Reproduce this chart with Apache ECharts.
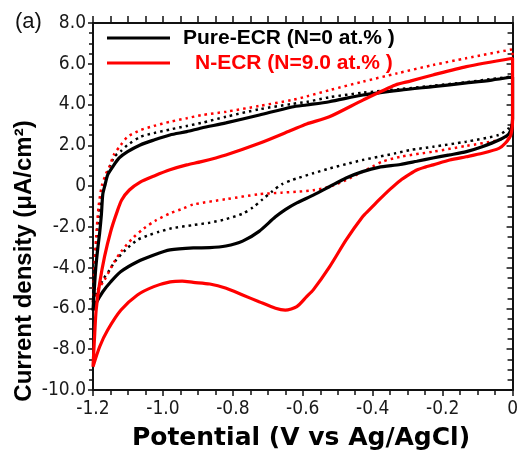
<!DOCTYPE html>
<html>
<head>
<meta charset="utf-8">
<script src="https://cdn.jsdelivr.net/npm/echarts@6/dist/echarts.min.js"></script>
<style>
html,body{margin:0;padding:0;background:#fff;}
#chart{width:521px;height:453px;}
</style>
</head>
<body>
<div id="chart"></div>
<script>
// ---- Data (Potential V vs Ag/AgCl, current density µA/cm²) ----
const xTicks = [-1.2, -1.0, -0.8, -0.6, -0.4, -0.2, 0];
const yTicks = [-10, -8, -6, -4, -2, 0, 2, 4, 6, 8];

const legendNames = ['Pure-ECR (N=0 at.% )', 'N-ECR (N=9.0 at.% )'];

// Pure-ECR solid: forward (anodic) sweep
const pureFwdV = [-1.200,-1.196,-1.192,-1.186,-1.181,-1.176,-1.172,-1.165,-1.158,-1.144,-1.125,-1.101,-1.065,-1.026,-0.980,-0.932,-0.890,-0.820,-0.724,-0.631,-0.589,-0.524,-0.428,-0.321,-0.228,-0.132,-0.060,0.000];
const pureFwdJ = [-6.10,-5.00,-4.00,-3.00,-2.30,-1.40,-0.40,0.10,0.55,0.94,1.38,1.69,2.02,2.26,2.51,2.67,2.85,3.10,3.49,3.88,3.98,4.14,4.47,4.71,4.88,5.06,5.20,5.35];
// Pure-ECR solid: reverse (cathodic) sweep
const pureRevV = [0.000,-0.003,-0.011,-0.039,-0.087,-0.132,-0.180,-0.228,-0.274,-0.321,-0.383,-0.429,-0.476,-0.524,-0.570,-0.617,-0.650,-0.679,-0.725,-0.772,-0.820,-0.866,-0.913,-0.980,-1.026,-1.073,-1.121,-1.149,-1.172,-1.191,-1.200];
const pureRevJ = [3.30,2.90,2.55,2.26,1.93,1.69,1.53,1.38,1.22,1.06,0.92,0.71,0.40,-0.03,-0.44,-0.82,-1.15,-1.52,-2.22,-2.70,-2.94,-3.02,-3.03,-3.13,-3.38,-3.71,-4.20,-4.69,-5.18,-5.73,-6.10];

// N-ECR solid
const necrFwdV = [-1.200,-1.195,-1.191,-1.181,-1.167,-1.149,-1.132,-1.118,-1.096,-1.065,-1.025,-0.980,-0.932,-0.890,-0.820,-0.724,-0.631,-0.589,-0.524,-0.428,-0.335,-0.293,-0.228,-0.132,0.000];
const necrFwdJ = [-8.86,-7.22,-6.08,-4.77,-3.46,-2.20,-1.30,-0.68,-0.19,0.20,0.50,0.80,1.04,1.20,1.53,2.10,2.75,3.05,3.40,4.22,4.96,5.15,5.45,5.86,6.27];
const necrRevV = [0.000,-0.005,-0.021,-0.039,-0.086,-0.133,-0.180,-0.227,-0.250,-0.274,-0.293,-0.321,-0.350,-0.382,-0.410,-0.429,-0.476,-0.523,-0.570,-0.589,-0.617,-0.650,-0.678,-0.725,-0.772,-0.819,-0.866,-0.913,-0.945,-0.979,-1.026,-1.073,-1.120,-1.158,-1.181,-1.200];
const necrRevJ = [3.30,2.51,2.10,1.85,1.61,1.44,1.28,1.04,0.93,0.79,0.60,0.28,-0.15,-0.68,-1.17,-1.50,-2.64,-3.95,-5.09,-5.42,-5.91,-6.08,-5.99,-5.67,-5.34,-5.01,-4.80,-4.72,-4.66,-4.70,-4.93,-5.34,-6.08,-7.06,-7.88,-8.86];

// Pure-ECR dotted
const pureDotFwdV = [-1.200,-1.196,-1.191,-1.184,-1.176,-1.169,-1.155,-1.139,-1.120,-1.101,-1.064,-1.026,-0.979,-0.932,-0.890,-0.820,-0.724,-0.631,-0.589,-0.524,-0.428,-0.321,-0.228,-0.132,0.000];
const pureDotFwdJ = [-5.70,-4.20,-2.80,-1.50,-0.60,-0.10,0.80,1.44,1.72,2.02,2.42,2.60,2.78,2.95,3.10,3.40,3.77,4.03,4.13,4.36,4.58,4.76,4.92,5.10,5.38];
const pureDotRevV = [0.000,-0.011,-0.039,-0.133,-0.227,-0.293,-0.335,-0.382,-0.429,-0.476,-0.523,-0.570,-0.617,-0.631,-0.659,-0.687,-0.715,-0.743,-0.772,-0.820,-0.865,-0.913,-0.975,-1.011,-1.039,-1.073,-1.107,-1.138,-1.152,-1.169,-1.186,-1.200];
const pureDotRevJ = [3.10,2.84,2.51,2.18,1.93,1.77,1.61,1.44,1.28,1.08,0.87,0.63,0.38,0.30,0.10,-0.25,-0.65,-1.05,-1.35,-1.62,-1.79,-1.91,-2.07,-2.24,-2.40,-2.64,-3.13,-3.71,-4.11,-4.52,-5.09,-5.70];

// N-ECR dotted
const necrDotFwdV = [-1.200,-1.196,-1.191,-1.184,-1.175,-1.163,-1.153,-1.140,-1.120,-1.101,-1.064,-1.026,-0.979,-0.932,-0.890,-0.819,-0.725,-0.631,-0.589,-0.523,-0.429,-0.330,-0.227,-0.133,0.000];
const necrDotFwdJ = [-5.70,-4.00,-2.50,-1.00,0.00,0.60,0.95,1.55,2.02,2.42,2.75,2.95,3.16,3.33,3.48,3.65,3.93,4.22,4.40,4.71,5.12,5.53,5.94,6.27,6.71];
const necrDotRevV = [0.000,-0.011,-0.039,-0.133,-0.227,-0.321,-0.373,-0.401,-0.429,-0.476,-0.523,-0.570,-0.610,-0.660,-0.725,-0.819,-0.913,-0.942,-0.979,-1.022,-1.054,-1.087,-1.120,-1.139,-1.167,-1.186,-1.200];
const necrDotRevJ = [3.10,2.51,2.26,1.97,1.69,1.44,1.20,0.95,0.71,0.30,-0.03,-0.20,-0.27,-0.32,-0.40,-0.64,-0.90,-1.10,-1.33,-1.70,-2.07,-2.56,-3.22,-3.71,-4.60,-5.09,-5.70];

function loop(fv, fj, rv, rj) {
  const d = [];
  fv.forEach((v, i) => d.push([v, fj[i]]));
  rv.forEach((v, i) => d.push([v, rj[i]]));
  return d;
}

const narrow = "'Liberation Sans Narrow', 'DejaVu Sans Condensed', 'Arial Narrow', sans-serif";
const fmtY = v => (v === 0 ? '0' : v.toFixed(1));
const fmtX = v => (Math.abs(v) < 1e-9 ? '0' : v.toFixed(1));

const chart = echarts.init(document.getElementById('chart'), null, {renderer: 'canvas'});

const axisLineStyle = {color: '#111', width: 2};

chart.setOption({
  animation: false,
  backgroundColor: '#fff',
  grid: {left: 93, right: 2, top: 23, bottom: 63, containLabel: false},
  xAxis: [
    {
      type: 'value', min: xTicks[0], max: xTicks[xTicks.length - 1], interval: 0.2,
      position: 'bottom',
      axisLine: {show: true, onZero: false, lineStyle: axisLineStyle},
      axisTick: {show: true, inside: false, length: 6, lineStyle: {color: '#111', width: 1.5}},
      minorTick: {show: true, splitNumber: 4, length: 5, lineStyle: {color: '#111', width: 1.5}},
      axisLabel: {formatter: fmtX, fontFamily: narrow, fontSize: 19, color: '#1a1a1a', margin: 10},
      splitLine: {show: false}, minorSplitLine: {show: false}
    },
    {
      type: 'value', min: xTicks[0], max: xTicks[xTicks.length - 1], interval: 0.2,
      position: 'top',
      axisLine: {show: true, onZero: false, lineStyle: axisLineStyle},
      axisTick: {show: true, inside: false, length: 7, lineStyle: {color: '#111', width: 1.5}},
      minorTick: {show: true, splitNumber: 4, length: 7, lineStyle: {color: '#111', width: 1.5}},
      axisLabel: {show: false},
      splitLine: {show: false}
    }
  ],
  yAxis: [
    {
      type: 'value', min: yTicks[0], max: yTicks[yTicks.length - 1], interval: 2,
      position: 'left',
      axisLine: {show: true, onZero: false, lineStyle: axisLineStyle},
      axisTick: {show: true, inside: false, length: 5, lineStyle: {color: '#111', width: 1.5}},
      minorTick: {show: true, splitNumber: 4, length: 4, lineStyle: {color: '#111', width: 1.5}},
      axisLabel: {formatter: fmtY, fontFamily: narrow, fontSize: 19, color: '#1a1a1a', margin: 7},
      splitLine: {show: false}
    },
    {
      type: 'value', min: yTicks[0], max: yTicks[yTicks.length - 1], interval: 2,
      position: 'right',
      axisLine: {show: true, onZero: false, lineStyle: axisLineStyle},
      axisTick: {show: true, inside: true, length: 6, lineStyle: {color: '#111', width: 1.5}},
      minorTick: {show: true, splitNumber: 4, length: 5, lineStyle: {color: '#111', width: 1.5}},
      axisLabel: {show: false},
      splitLine: {show: false}
    }
  ],
  legend: [
    {
      data: [{name: legendNames[0], icon: 'rect', textStyle: {color: '#000'}}],
      left: 107, top: 27, padding: 0, itemWidth: 63, itemHeight: 3,
      textStyle: {fontFamily: "'Liberation Sans', Arial, sans-serif", fontWeight: 'bold', fontSize: 21, padding: [0, 0, 0, 8], lineHeight: 22}
    },
    {
      data: [{name: legendNames[1], icon: 'rect', textStyle: {color: '#ff0000'}}],
      left: 107, top: 52, padding: 0, itemWidth: 63, itemHeight: 3,
      textStyle: {fontFamily: "'Liberation Sans', Arial, sans-serif", fontWeight: 'bold', fontSize: 21, padding: [0, 0, 0, 20], lineHeight: 22}
    }
  ],
  graphic: [
    {type: 'text', left: 15, top: 11, style: {text: '(a)', font: "22px 'Liberation Sans', Arial, sans-serif", fill: '#111'}},
    {type: 'text', x: 301, y: 438, style: {text: 'Potential (V vs Ag/AgCl)', font: "bold 25px 'DejaVu Sans', sans-serif", fill: '#000', textAlign: 'center', textVerticalAlign: 'middle'}},
    {type: 'text', x: 24, y: 261, rotation: Math.PI / 2, style: {text: 'Current density (μA/cm²)', font: "bold 24px 'Liberation Sans', Arial, sans-serif", fill: '#000', textAlign: 'center', textVerticalAlign: 'middle'}}
  ],
  series: [
    {
      name: 'Pure-ECR dotted', type: 'line', showSymbol: false, symbol: 'none', smooth: 0.25,
      data: loop(pureDotFwdV, pureDotFwdJ, pureDotRevV, pureDotRevJ),
      lineStyle: {color: '#000', width: 2.5, type: [2.5, 4]}, itemStyle: {color: '#000'}, z: 2
    },
    {
      name: 'N-ECR dotted', type: 'line', showSymbol: false, symbol: 'none', smooth: 0.25,
      data: loop(necrDotFwdV, necrDotFwdJ, necrDotRevV, necrDotRevJ),
      lineStyle: {color: '#ff0000', width: 2.5, type: [2.5, 4]}, itemStyle: {color: '#ff0000'}, z: 2
    },
    {
      name: legendNames[0], type: 'line', showSymbol: false, symbol: 'none', smooth: 0.25,
      data: loop(pureFwdV, pureFwdJ, pureRevV, pureRevJ),
      lineStyle: {color: '#000', width: 3.2}, itemStyle: {color: '#000'}, z: 3
    },
    {
      name: legendNames[1], type: 'line', showSymbol: false, symbol: 'none', smooth: 0.25,
      data: loop(necrFwdV, necrFwdJ, necrRevV, necrRevJ),
      lineStyle: {color: '#ff0000', width: 3.2}, itemStyle: {color: '#ff0000'}, z: 3
    }
  ]
});
</script>
</body>
</html>
